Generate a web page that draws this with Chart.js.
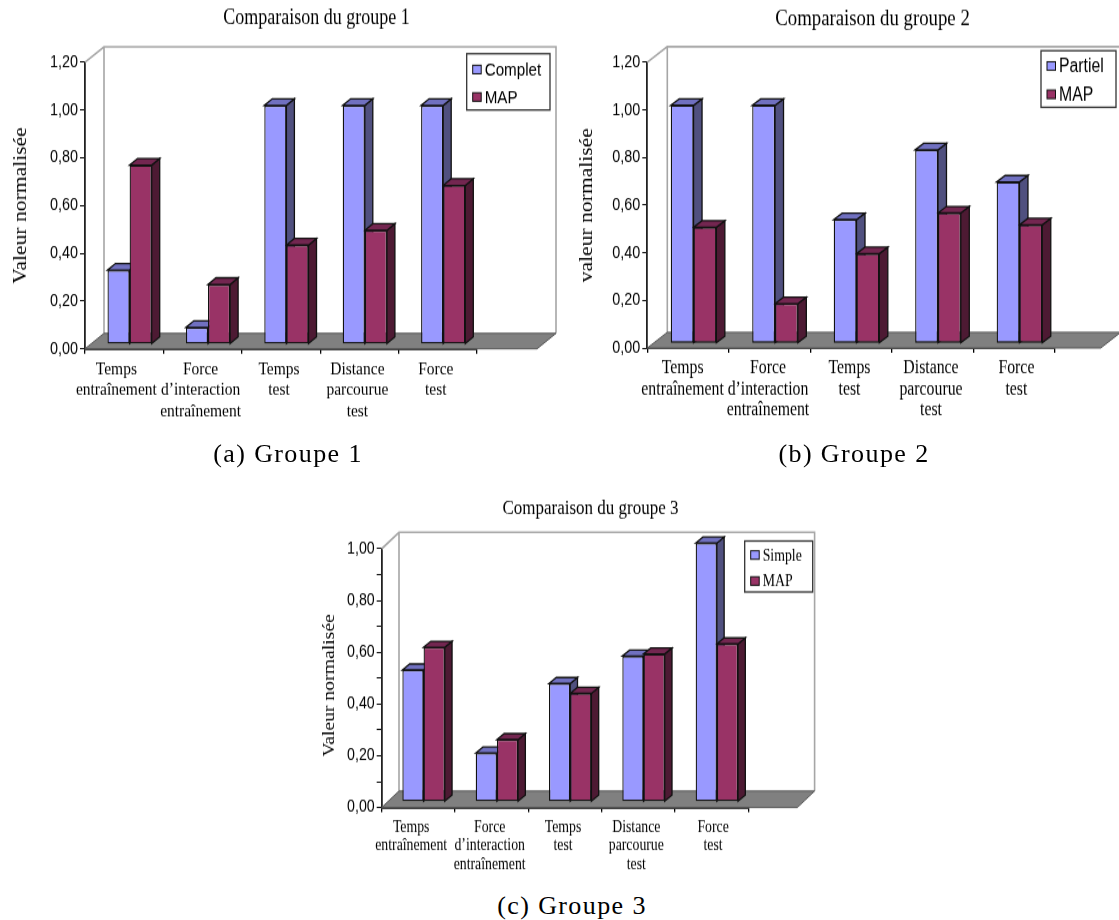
<!DOCTYPE html>
<html>
<head>
<meta charset="utf-8">
<script src="https://cdn.jsdelivr.net/npm/chart.js@4"></script>
<style>
    html, body { margin: 0; padding: 0; background: #fff; overflow: hidden; }
    #page { position: relative; width: 1119px; height: 920px; overflow: hidden; }
    /* the source figure was stretched vertically, text included */
    canvas { position: absolute; transform-origin: 0 0; transform: scale(1, 1.2); }
    .caption {
        position: absolute; transform: translateX(-50%); white-space: pre;
        font: 26px "Liberation Serif", serif; letter-spacing: 1.4px; color: #000;
    }
</style>
</head>
<body>
<div id="page">
    <canvas id="chart1"></canvas>
    <canvas id="chart2"></canvas>
    <canvas id="chart3"></canvas>
    <div class="caption" style="left:288px;top:439px">(a) Groupe 1</div>
    <div class="caption" style="left:854px;top:439px">(b) Groupe 2</div>
    <div class="caption" style="left:572px;top:891px">(c) Groupe 3</div>
</div>
<script>
const STRETCH = 1.2;

const categories = [
    ['Temps', 'entraînement'],
    ['Force', 'd’interaction', 'entraînement'],
    ['Temps', 'test'],
    ['Distance', 'parcourue', 'test'],
    ['Force', 'test']
];

const complet1 = [0.31, 0.07, 1.00, 1.00, 1.00];
const map1 = [0.75, 0.25, 0.415, 0.477, 0.665];

const partiel2 = [1.00, 1.00, 0.52, 0.813, 0.678];
const map2 = [0.488, 0.167, 0.377, 0.548, 0.498];

const simple3 = [0.509, 0.188, 0.457, 0.563, 1.00];
const map3 = [0.597, 0.24, 0.419, 0.571, 0.61];

const BLUE = { front: '#9999ff', side: '#50507f', top: '#7070c0' };
const MAROON = { front: '#993366', side: '#4d1a33', top: '#732650' };

// walls, floor and bar depth, drawn around the bars from the chart's own scales
const depthPlugin = {
    id: 'depth',
    beforeDatasetsDraw(chart, args, opts) {
        const { ctx, scales: { x, y } } = chart;
        const wx = opts.wallX, wy = opts.wallY / STRETCH;
        const frontRight = x.right + opts.floorRight;

        ctx.save();
        ctx.strokeStyle = '#a6a6a6';
        ctx.lineWidth = 1.6;
        ctx.beginPath();
        ctx.moveTo(x.left, y.top);
        ctx.lineTo(x.left + wx, y.top - wy);
        ctx.lineTo(frontRight + wx, y.top - wy);
        ctx.lineTo(frontRight + wx, y.bottom - wy);
        ctx.moveTo(x.left + wx, y.top - wy);
        ctx.lineTo(x.left + wx, y.bottom - wy);
        ctx.stroke();

        ctx.fillStyle = '#808080';
        ctx.strokeStyle = '#555';
        ctx.lineWidth = 1;
        ctx.beginPath();
        ctx.moveTo(x.left, y.bottom);
        ctx.lineTo(frontRight, y.bottom);
        ctx.lineTo(frontRight + wx, y.bottom - wy);
        ctx.lineTo(x.left + wx, y.bottom - wy);
        ctx.closePath();
        ctx.fill();
        ctx.stroke();
        ctx.restore();

        ctx.save();
        ctx.translate(opts.shiftX, -opts.shiftY / STRETCH);
        const bx = opts.barX, by = opts.barY / STRETCH;
        ctx.lineWidth = 1.3;
        ctx.strokeStyle = '#111';
        chart.data.datasets.forEach((ds, i) => {
            chart.getDatasetMeta(i).data.forEach(bar => {
                const l = bar.x - bar.width / 2, r = bar.x + bar.width / 2;
                ctx.fillStyle = ds.shade.side;
                ctx.beginPath();
                ctx.moveTo(r, bar.y);
                ctx.lineTo(r + bx, bar.y - by);
                ctx.lineTo(r + bx, bar.base - by);
                ctx.lineTo(r, bar.base);
                ctx.closePath();
                ctx.fill();
                ctx.stroke();
                ctx.fillStyle = ds.shade.top;
                ctx.beginPath();
                ctx.moveTo(l, bar.y);
                ctx.lineTo(l + bx, bar.y - by);
                ctx.lineTo(r + bx, bar.y - by);
                ctx.lineTo(r, bar.y);
                ctx.closePath();
                ctx.fill();
                ctx.stroke();
            });
        });
    },
    afterDatasetsDraw(chart) {
        chart.ctx.restore();
    }
};

// boxed legend sitting inside the wall
const boxLegendPlugin = {
    id: 'boxLegend',
    afterDatasetsDraw(chart, args, opts) {
        const ctx = chart.ctx;
        ctx.save();
        ctx.fillStyle = '#fff';
        ctx.strokeStyle = '#333';
        ctx.lineWidth = 1.3;
        ctx.fillRect(opts.x, opts.y, opts.w, opts.h);
        ctx.strokeRect(opts.x, opts.y, opts.w, opts.h);
        ctx.font = opts.font;
        ctx.textBaseline = 'middle';
        chart.data.datasets.forEach((ds, i) => {
            const cy = opts.rows[i];
            const size = opts.swatch;
            ctx.fillStyle = ds.shade.front;
            ctx.strokeStyle = '#111';
            ctx.lineWidth = 1;
            ctx.fillRect(opts.x + opts.inset, cy - size / STRETCH / 2, size, size / STRETCH);
            ctx.strokeRect(opts.x + opts.inset, cy - size / STRETCH / 2, size, size / STRETCH);
            ctx.fillStyle = '#000';
            ctx.fillText(ds.label, opts.x + opts.inset + size + 3.5, cy + 0.8);
        });
        ctx.restore();
    }
};

function tickText(v, minorStep) {
    if (minorStep && Math.round(v * 10) % 2 !== 0) {
        return '';
    }
    return v.toFixed(2).replace('.', ',');
}

function padLabels(cfg) {
    return categories.map((lines, i) => {
        if (i === 0) {
            return lines.map(s => s + cfg.firstPad);
        }
        if (i === categories.length - 1) {
            return lines.map(s => cfg.lastPad + s);
        }
        return lines;
    });
}

function drawChart(id, cfg) {
    const canvas = document.getElementById(id);
    canvas.style.left = cfg.left + 'px';
    canvas.style.top = cfg.top + 'px';
    canvas.width = cfg.width;
    canvas.height = cfg.height;
    const toY = v => (v - cfg.top) / STRETCH;
    const areaTop = toY(cfg.areaTop);
    const areaBottom = toY(cfg.areaBottom);
    const titleH = cfg.titleSize * 1.2;
    const titleCentre = toY(cfg.titleY);

    return new Chart(canvas.getContext('2d'), {
        type: 'bar',
        data: {
            labels: padLabels(cfg),
            datasets: [
                { label: cfg.names[0], data: cfg.series[0], backgroundColor: BLUE.front, shade: BLUE,
                  borderColor: '#111', borderWidth: 1.3, borderSkipped: false, clip: false },
                { label: cfg.names[1], data: cfg.series[1], backgroundColor: MAROON.front, shade: MAROON,
                  borderColor: '#111', borderWidth: 1.3, borderSkipped: false, clip: false }
            ]
        },
        plugins: [depthPlugin, boxLegendPlugin],
        options: {
            responsive: false,
            animation: false,
            layout: { padding: 0 },
            datasets: { bar: { categoryPercentage: cfg.groupShare, barPercentage: 1 } },
            scales: {
                x: {
                    offset: true,
                    border: { color: '#000', width: 1.8 },
                    grid: { offset: true, drawOnChartArea: false, tickLength: 4, color: '#000', lineWidth: 1.3 },
                    ticks: {
                        autoSkip: false, maxRotation: 0, minRotation: 0, padding: 4.5, labelOffset: cfg.labelShift,
                        color: '#000',
                        font: { family: '"Liberation Serif"', size: cfg.labelSize, lineHeight: cfg.labelLeading }
                    },
                    afterFit(scale) { scale.height = cfg.height - areaBottom; }
                },
                y: {
                    min: 0,
                    max: cfg.max,
                    border: { color: '#222', width: 1.8 },
                    grid: { drawOnChartArea: false, tickLength: 5, color: '#000', lineWidth: 1 },
                    ticks: {
                        stepSize: cfg.step, autoSkip: false, padding: 2, color: '#000',
                        font: { family: '"Liberation Sans"', size: cfg.tickSize },
                        callback: v => tickText(v, cfg.step < 0.2)
                    },
                    title: {
                        display: true, text: cfg.yTitle, color: '#000', padding: { top: cfg.yTitlePad, bottom: 0 },
                        font: { family: '"Liberation Serif"', size: cfg.yTitleSize, weight: 'normal' }
                    },
                    afterFit(scale) { scale.width = cfg.areaLeft; }
                },
                // keeps the plot short of the right edge without moving the centred title
                spacer: {
                    position: 'right', display: true,
                    ticks: { display: false }, grid: { display: false }, border: { display: false },
                    afterFit(scale) { scale.width = cfg.width - cfg.areaRight; }
                }
            },
            plugins: {
                legend: { display: false },
                tooltip: { enabled: false },
                title: {
                    display: true, text: cfg.title, color: '#000',
                    font: { family: '"Liberation Serif"', size: cfg.titleSize, weight: 'normal', lineHeight: 1.2 },
                    padding: { top: titleCentre - titleH / 2, bottom: areaTop - titleCentre - titleH / 2 }
                },
                depth: {
                    wallX: cfg.wallX, wallY: cfg.wallY, floorRight: cfg.floorRight,
                    shiftX: cfg.shiftX, shiftY: cfg.shiftY, barX: cfg.barX, barY: cfg.barY
                },
                boxLegend: {
                    x: cfg.legend.x - cfg.left, y: toY(cfg.legend.y),
                    w: cfg.legend.w, h: cfg.legend.h / STRETCH,
                    rows: cfg.legend.rows.map(toY), swatch: 8.5, inset: 6, font: cfg.legend.font
                }
            }
        }
    });
}

drawChart('chart1', {
    left: 0, top: 0, width: 633, height: 367,
    areaLeft: 85, areaRight: 477, areaTop: 62.3, areaBottom: 348.8,
    max: 1.2, step: 0.2, groupShare: 0.564,
    names: ['Complet', 'MAP'], series: [complet1, map1],
    title: 'Comparaison du groupe 1', titleSize: 18, titleY: 18.2,
    yTitle: 'Valeur normalisée', yTitleSize: 18, yTitlePad: 10,
    labelSize: 15.5, labelLeading: '17.5px', tickSize: 14.4, labelShift: -2, firstPad: '   ', lastPad: '',
    wallX: 19, wallY: 15.5, floorRight: 60,
    shiftX: 5.4, shiftY: 4.6, barX: 8, barY: 6.7,
    legend: { x: 466.7, y: 53.7, w: 83.3, h: 56.3, rows: [69.5, 97], font: '15.2px "Liberation Sans"' }
});

drawChart('chart2', {
    left: 570, top: 0, width: 605, height: 367,
    areaLeft: 77.3, areaRight: 484.7, areaTop: 62.3, areaBottom: 348,
    max: 1.2, step: 0.2, groupShare: 0.56,
    names: ['Partiel', 'MAP'], series: [partiel2, map2],
    title: 'Comparaison du groupe 2', titleSize: 18.8, titleY: 19.5,
    yTitle: 'valeur normalisée', yTitleSize: 18, yTitlePad: 6,
    labelSize: 15.8, labelLeading: '17.5px', tickSize: 14.4, labelShift: -1.5, firstPad: '  ', lastPad: '  ',
    wallX: 20, wallY: 15.7, floorRight: 46,
    shiftX: 5.5, shiftY: 4.6, barX: 8.5, barY: 6.5,
    legend: { x: 1041, y: 50.7, w: 75, h: 56.6, rows: [66, 94.3], font: '15.8px "Liberation Sans"' }
});

drawChart('chart3', {
    left: 300, top: 490, width: 581, height: 325,
    areaLeft: 81.7, areaRight: 448.3, areaTop: 548.8, areaBottom: 807.5,
    max: 1, step: 0.1, groupShare: 0.578,
    names: ['Simple', 'MAP'], series: [simple3, map3],
    title: 'Comparaison du groupe 3', titleSize: 17, titleY: 509,
    yTitle: 'Valeur normalisée   ', yTitleSize: 16.4, yTitlePad: 20,
    labelSize: 13.8, labelLeading: '15.6px', tickSize: 14.2, labelShift: -2, firstPad: '   ', lastPad: '  ',
    wallX: 17.3, wallY: 16.5, floorRight: 49,
    shiftX: 5.2, shiftY: 5.8, barX: 7.3, barY: 6,
    legend: { x: 744.7, y: 541, w: 68, h: 51, rows: [555, 581], font: '13.8px "Liberation Serif"' }
});
</script>
</body>
</html>
